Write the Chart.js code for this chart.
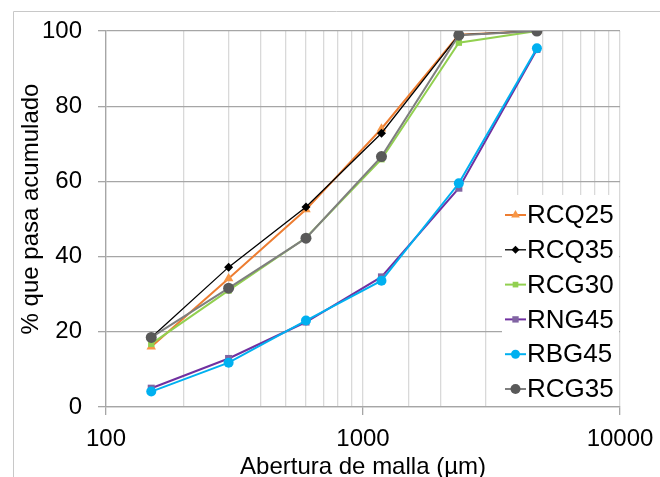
<!DOCTYPE html>
<html>
<head>
<meta charset="utf-8">
<script src="https://cdn.jsdelivr.net/npm/chart.js@4.4.1/dist/chart.umd.min.js"></script>
<style>
  body { margin: 0; background: #fff; }
  canvas { display: block; }
</style>
</head>
<body>
<canvas id="granulometria" width="660" height="477"></canvas>
<script>
// abertura de malla (µm) y % que pasa acumulado de cada mezcla
const aberturas = [150, 300, 600, 1180, 2360, 4750];
const rcq25 = [16.0, 34.2, 52.5, 74.0, 99.0, 100];
const rcq35 = [18.5, 37.2, 53.2, 72.8, 99.0, 100];
const rcg30 = [16.8, 31.0, 45.0, 65.9, 96.9, 100];
const rng45 = [5.0, 12.9, 22.6, 34.6, 58.2, 95.1];
const rbg45 = [4.1, 11.8, 23.0, 33.6, 59.5, 95.4];
const rcg35 = [18.5, 31.6, 44.9, 66.6, 98.9, 100];
const nombres = ['RCQ25', 'RCQ35', 'RCG30', 'RNG45', 'RBG45', 'RCG35'];
const yTicks = [0, 20, 40, 60, 80, 100];

const FUENTE = "'Liberation Sans', Arial, sans-serif";
Chart.defaults.font.family = FUENTE;

function serie(i, valores, linea, marca, estilo, radio, grosor) {
  return {
    label: nombres[i],
    data: aberturas.map((x, k) => ({ x: x, y: valores[k] })),
    borderColor: linea,
    backgroundColor: marca,
    pointBackgroundColor: marca,
    pointBorderColor: marca,
    pointBorderWidth: 0,
    pointStyle: estilo,
    pointRadius: radio,
    borderWidth: grosor,
    tension: 0,
    order: 6 - i
  };
}

const datasets = [
  serie(0, rcq25, '#ED7D31', '#F79646', 'triangle', 5.5, 2),
  serie(1, rcq35, '#000000', '#000000', 'rectRot', 4.5, 1.3),
  serie(2, rcg30, '#92D050', '#92D050', 'rect', 4.5, 2),
  serie(3, rng45, '#7030A0', '#8064A2', 'rect', 5, 2),
  serie(4, rbg45, '#00B0F0', '#00B0F0', 'circle', 5, 2),
  serie(5, rcg35, '#7F7F7F', '#595959', 'circle', 5.5, 2)
];

const esMayor = v => Math.abs(Math.log10(v) - Math.round(Math.log10(v))) < 1e-9;

// marco, títulos y leyenda al estilo Excel
const extras = {
  id: 'extras',
  beforeDraw(chart) {
    const c = chart.ctx;
    c.save();
    c.strokeStyle = '#c8c8c8';
    c.lineWidth = 1;
    c.beginPath();
    c.moveTo(13.5, 477);
    c.lineTo(13.5, 11.5);
    c.lineTo(660, 11.5);
    c.stroke();
    c.restore();
  },
  afterDatasetsDraw(chart) {
    const c = chart.ctx;
    c.save();
    c.fillStyle = '#fff';
    c.fillRect(502, 195, 117, 211);
    const sets = chart.data.datasets;
    sets.forEach((ds, i) => {
      const y = 215 + i * 34.8;
      c.strokeStyle = ds.borderColor;
      c.lineWidth = ds.borderWidth;
      c.beginPath();
      c.moveTo(505, y);
      c.lineTo(526, y);
      c.stroke();
      c.fillStyle = ds.pointBackgroundColor;
      c.strokeStyle = ds.pointBackgroundColor;
      Chart.helpers.drawPoint(c, { pointStyle: ds.pointStyle, radius: ds.pointRadius - 0.5, rotation: 0, borderWidth: 0 }, 515.5, y);
      c.fillStyle = '#000';
      c.font = '26px ' + FUENTE;
      c.textBaseline = 'middle';
      c.textAlign = 'left';
      c.fillText(ds.label, 527, y + 1);
    });
    c.restore();
  },
  afterDraw(chart) {
    const c = chart.ctx;
    c.save();
    c.fillStyle = '#000';
    c.font = '24px ' + FUENTE;
    c.textAlign = 'center';
    c.textBaseline = 'middle';
    c.fillText('Abertura de malla (µm)', 363, 467);
    c.translate(31, 209);
    c.rotate(-Math.PI / 2);
    c.fillText('% que pasa acumulado', 0, 0);
    c.restore();
  }
};

new Chart(document.getElementById('granulometria'), {
  type: 'line',
  data: { datasets: datasets },
  options: {
    responsive: false,
    animation: false,
    layout: { padding: { top: 31, right: 40, left: 0, bottom: 0 } },
    plugins: { legend: { display: false }, tooltip: { enabled: false } },
    scales: {
      x: {
        type: 'logarithmic',
        min: 100,
        max: 10000,
        afterFit: s => { s.height = 70; s.paddingRight = 0; s.paddingLeft = 0; },
        border: { color: '#a6a6a6', width: 1.3 },
        grid: {
          color: '#d9d9d9',
          lineWidth: 1.3,
          tickLength: 8,
          tickColor: ctx => (ctx.tick && esMayor(ctx.tick.value)) ? '#a6a6a6' : 'rgba(0,0,0,0)'
        },
        ticks: {
          autoSkip: false,
          maxRotation: 0,
          padding: 10,
          color: '#000',
          font: { size: 24 },
          callback: v => esMayor(v) ? String(v) : ''
        }
      },
      y: {
        min: 0,
        max: 100,
        afterFit: s => { s.width = 106; },
        afterBuildTicks: s => { s.ticks = yTicks.map(v => ({ value: v })); },
        border: { color: '#a6a6a6', width: 1.3 },
        grid: { color: '#a6a6a6', lineWidth: 1.3, tickLength: 8, tickColor: '#a6a6a6' },
        ticks: { padding: 16, color: '#000', font: { size: 24 } }
      }
    }
  },
  plugins: [extras]
});
</script>
</body>
</html>
